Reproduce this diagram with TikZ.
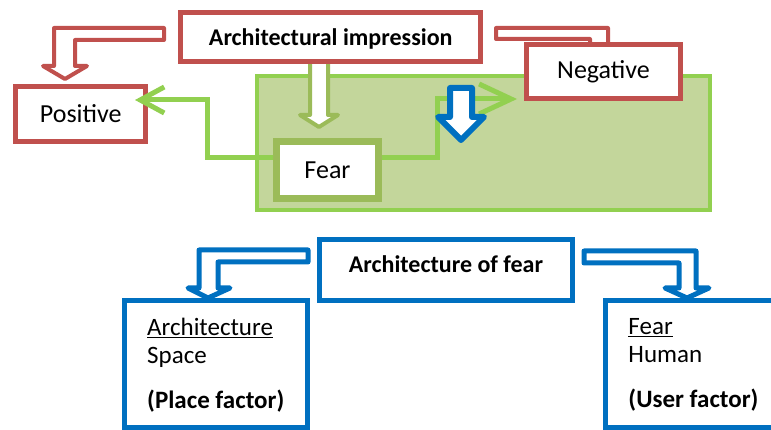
\documentclass[tikz,border=0pt]{standalone}
\usepackage{fontspec}
\setmainfont{Carlito}
\usetikzlibrary{arrows.meta}

\definecolor{boxred}{HTML}{C0504D}
\definecolor{leafgreen}{HTML}{92D050}
\definecolor{olivegreen}{HTML}{9BBB59}
\definecolor{zonefill}{HTML}{C3D69B}
\definecolor{boxblue}{HTML}{0070C0}

\tikzstyle{redbox}=[draw=boxred,line width=5pt,fill=white,inner sep=0pt]
\tikzstyle{bluebox}=[draw=boxblue,line width=5pt,fill=white,inner sep=0pt]
\tikzstyle{greenlink}=[draw=leafgreen,line width=5pt]
\tikzstyle{blockarrow}=[fill=white,line join=round]
\tikzstyle{txt}=[font=\fontsize{26}{28}\selectfont]
\tikzstyle{boldtxt}=[font=\fontsize{24}{27}\selectfont\bfseries]
\tikzstyle{factor}=[font=\fontsize{25}{28}\selectfont, align=left, anchor=north west, inner sep=0pt]
\newcommand{\pxunit}{1pt}

\begin{document}
\begin{tikzpicture}[x=\pxunit, y=-\pxunit]
    \useasboundingbox (0,0) rectangle (771,430);
    \clip (0,0) rectangle (771,430);

    % First the green zone and the boxes above it
    \node[draw=leafgreen, fill=zonefill, line width=4pt, minimum width=453pt,
          minimum height=134pt, inner sep=0pt] (zone) at (483.5,143) {};
    \node[redbox, txt, minimum width=130pt, minimum height=55pt] (pos) at (80.75,114) {Positive};

    % Block arrow from the impression down to fear
    \draw[blockarrow, draw=olivegreen, line width=4pt]
        (310,58) -- (310,115) -- (300,115) -- (319,127) -- (338,115) -- (328,115) -- (328,58) -- cycle;
    \node[redbox, boldtxt, minimum width=300pt, minimum height=49pt,
          text height=18pt, text depth=0pt] (impr) at (330.75,37) {Architectural impression\hspace{10pt}};
    \node[draw=olivegreen, fill=white, line width=7pt, txt, minimum width=102pt,
          minimum height=57pt, inner sep=0pt] (fear) at (327.5,170) {Fear};

    % Green links from fear to both sides
    \coordinate (posin) at (135,100);
    \coordinate (negin) at (517,99);
    \draw[greenlink, -{Straight Barb[length=24pt,width=26pt]}]
        ([yshift=12pt]fear.west) -| (207,100) -- (posin);
    \draw[greenlink, -{Straight Barb[length=32pt,width=30pt]}]
        ([yshift=12pt]fear.east) -| (437,99) -- (negin);

    \draw[blockarrow, draw=boxblue, line width=6pt]
        (450,88) -- (472,88) -- (472,117) -- (484,117) -- (461,140) -- (438,117) -- (450,117) -- cycle;

    % Bent arrows out of the impression
    \draw[blockarrow, draw=boxred, line width=4pt]
        (164,28) -- (54,28) -- (54,66) -- (43,66) -- (65,79) -- (87,66) -- (75,66) -- (75,40) -- (164,40) -- cycle;
    \draw[blockarrow, draw=boxred, line width=4pt]
        (496,28) -- (608,28) -- (608,60) -- (618,60) -- (599,72) -- (580,60) -- (590,60) -- (590,39) -- (496,39) -- cycle;
    \node[redbox, txt, minimum width=154pt, minimum height=54pt] (neg) at (603.5,71.5) {Negative};

    % Lower part
    \node[bluebox, boldtxt, minimum width=253pt, minimum height=61pt,
          text height=12pt, text depth=6pt] (archfear) at (446,270) {Architecture of fear\hspace{8pt}};
    \draw[blockarrow, draw=boxblue, line width=5pt]
        (308,250) -- (199,250) -- (199,288) -- (188,288) -- (208,298) -- (230,288) -- (218,288) -- (218,262) -- (308,262) -- cycle;
    \draw[blockarrow, draw=boxblue, line width=5pt]
        (584,251) -- (696,251) -- (696,288) -- (709,288) -- (687,298) -- (665,288) -- (679,288) -- (679,263) -- (584,263) -- cycle;

    \node[bluebox, minimum width=183pt, minimum height=127pt] (place) at (216,364) {};
    \node[bluebox, minimum width=184pt, minimum height=127pt] (user) at (697.75,364) {};
    \node[factor] (placetxt) at ([xshift=25pt,yshift=-20pt]place.north west)
        {\underline{Architecture}\\Space\\[17pt]\textbf{(Place factor)}};
    \node[factor] (usertxt) at ([xshift=25pt,yshift=-20pt]user.north west)
        {\underline{Fear}\\Human\\[17pt]\textbf{(User factor)}};
\end{tikzpicture}
\end{document}
